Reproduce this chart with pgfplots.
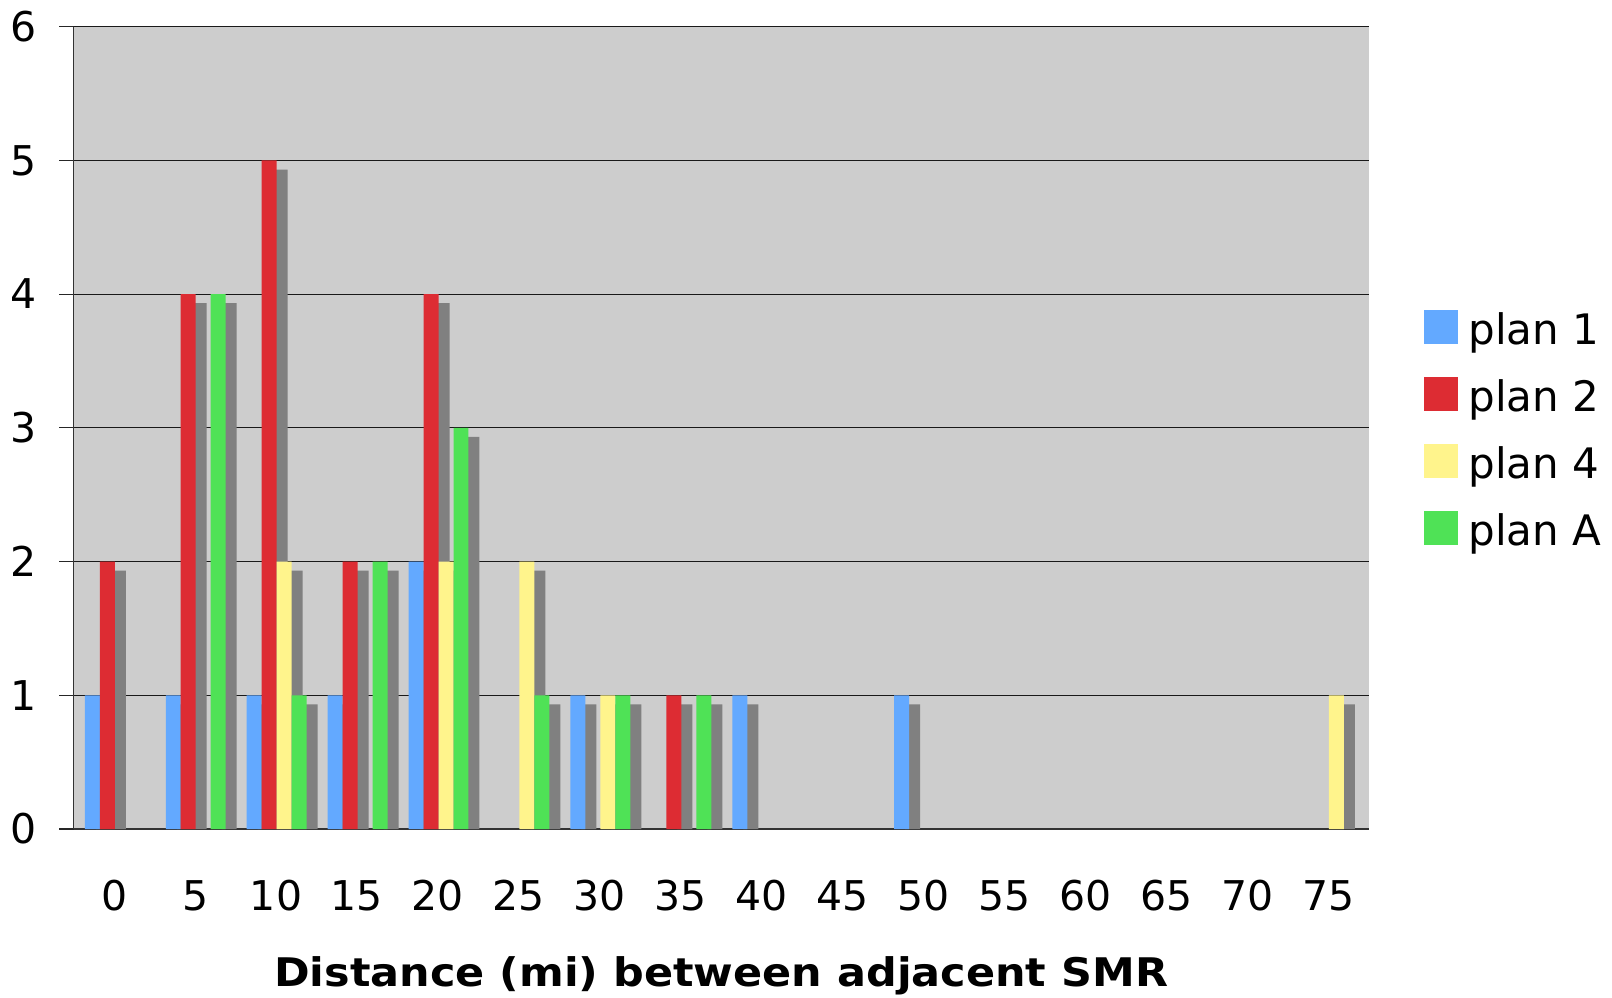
\documentclass[border=0pt]{standalone}
\usepackage{fontspec}
\setmainfont{DejaVu Sans}
\newfontfamily\labelfont{DejaVu Sans}[FakeStretch=1.09]
\usepackage{pgfplots}
\usepackage{pgfplotstable}
\pgfplotsset{compat=1.18}

\definecolor{planone}{RGB}{99,169,255}
\definecolor{plantwo}{RGB}{221,44,51}
\definecolor{planfour}{RGB}{255,244,140}
\definecolor{planA}{RGB}{79,226,86}
\definecolor{barshadow}{RGB}{128,128,128}
\definecolor{plotbg}{RGB}{205,205,205}

% number of SMR pairs per distance bin (miles)
\pgfplotstableread{
dist p1 p2 p4 pA
0  1 2 0 0
5  1 4 0 4
10 1 5 2 1
15 1 2 0 2
20 2 4 2 3
25 0 0 2 1
30 1 0 1 1
35 0 1 0 1
40 1 0 0 0
45 0 0 0 0
50 1 0 0 0
55 0 0 0 0
60 0 0 0 0
65 0 0 0 0
70 0 0 0 0
75 0 0 1 0
}\smrdata

\pgfplotsset{
  smrbar/.style={ybar, bar width=0.185, draw=none, fill=#1,
    unbounded coords=discard, y filter/.expression={y<=0 ? nan : y},
    legend image code/.code={\fill[fill=#1] (0pt,0pt) rectangle (17pt,17pt);}},
  smrshadow/.style={ybar, bar width=0.185, draw=none, fill=barshadow, forget plot,
    unbounded coords=discard, y filter/.expression={y<=0 ? nan : y}},
}

\begin{document}
\begin{tikzpicture}
\begin{axis}[
  name=ax,
  scale only axis,
  width=647.5pt, height=401.15pt,
  xmin=-0.5, xmax=15.5, ymin=0, ymax=6,
  enlargelimits=false,
  axis background/.style={fill=plotbg},
  axis x line*=bottom, axis y line*=left,
  axis line style={-, black!80, line width=0.6pt},
  tick align=outside,
  major tick length=7.2pt, minor tick length=7.2pt,
  ytick={0,1,...,6},
  xtick={0,1,...,15},
  xticklabels={0,5,10,15,20,25,30,35,40,45,50,55,60,65,70,75},
  xtick style={draw=none},
  minor xtick={-0.5,0.5,...,15.5},
  tick style={black!85, line width=0.6pt},
  minor x tick style={black!85, line width=0.6pt},
  ymajorgrids,
  major grid style={black!90, line width=0.6pt},
  /pgf/number format/assume math mode=true,
  tick label style={font=\fontsize{20.5pt}{24pt}\selectfont},
  xticklabel style={anchor=base, yshift=-33.5pt},
  yticklabel style={anchor=base, xshift=-18pt, yshift=-7.4pt},
  xlabel={\labelfont\bfseries Distance (mi) between adjacent SMR},
  every axis x label/.style={at={(axis description cs:0.5,0)}, anchor=base,
    yshift=-78.7pt, font=\fontsize{19.7pt}{24pt}\selectfont},
  legend style={at={(1.0427,0.6469)}, anchor=north west, draw=none, fill=none,
    inner sep=0pt, row sep=11.5pt, column sep=5pt,
    font=\fontsize{21pt}{25pt}\selectfont,
    nodes={anchor=base west, inner sep=0pt, text height=15pt, text depth=5pt}},
  legend cell align=left,
]
\addplot[smrshadow, bar shift=-0.134] table[x expr=\thisrow{dist}/5, y expr=\thisrow{p1}-0.068] {\smrdata};
\addplot[smrbar=planone, bar shift=-0.27] table[x expr=\thisrow{dist}/5, y=p1] {\smrdata};
\addplot[smrshadow, bar shift=0.051] table[x expr=\thisrow{dist}/5, y expr=\thisrow{p2}-0.068] {\smrdata};
\addplot[smrbar=plantwo, bar shift=-0.085] table[x expr=\thisrow{dist}/5, y=p2] {\smrdata};
\addplot[smrshadow, bar shift=0.236] table[x expr=\thisrow{dist}/5, y expr=\thisrow{p4}-0.068] {\smrdata};
\addplot[smrbar=planfour, bar shift=0.10] table[x expr=\thisrow{dist}/5, y=p4] {\smrdata};
\addplot[smrshadow, bar shift=0.421] table[x expr=\thisrow{dist}/5, y expr=\thisrow{pA}-0.068] {\smrdata};
\addplot[smrbar=planA, bar shift=0.285] table[x expr=\thisrow{dist}/5, y=pA] {\smrdata};
\legend{plan 1, plan 2, plan 4, plan A}
\end{axis}
\pgfresetboundingbox
\path[use as bounding box] ([xshift=-36.85pt, yshift=-84pt]ax.south west) rectangle ++(806pt,498.5pt);
\end{tikzpicture}
\end{document}
